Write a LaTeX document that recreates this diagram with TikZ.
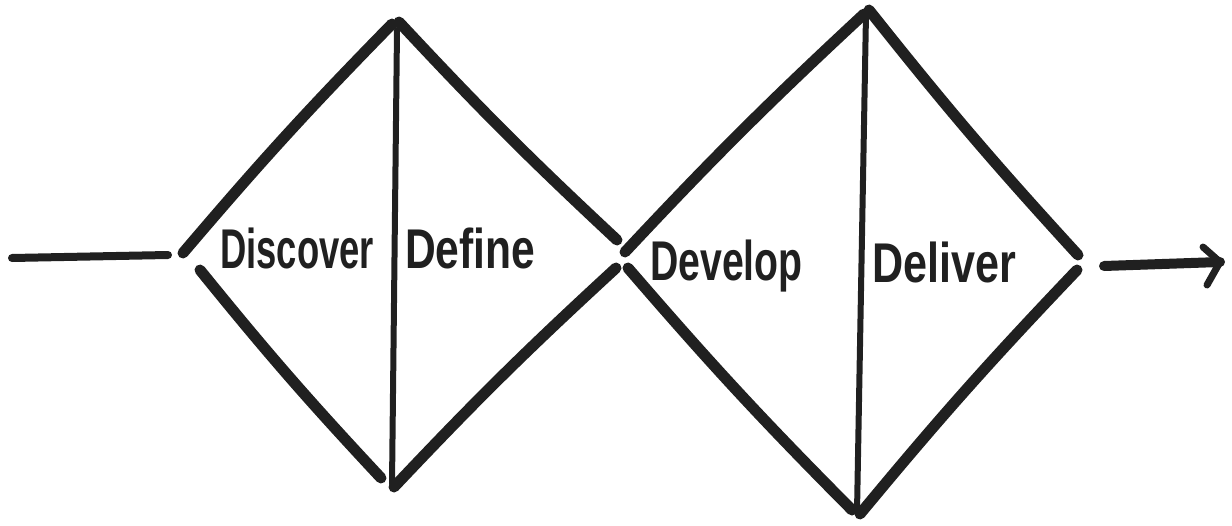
\documentclass[tikz,border=0pt]{standalone}
\usepackage{fontspec}
\setmainfont{Liberation Sans}
\definecolor{ink}{HTML}{202020}
\begin{document}
\begin{tikzpicture}[x=1pt,y=-1pt,
  edge/.style={draw=ink,line width=11pt,line cap=round,line join=round},
  divider/.style={draw=ink,line width=6pt,line cap=round},
  label/.style={text=ink,font=\fontsize{56}{64}\selectfont\bfseries,anchor=base west,inner sep=0pt,transform shape}]
\useasboundingbox (0,0) rectangle (1232,525);
% first diamond
\coordinate (l1a) at (183,253);
\coordinate (l1b) at (200,270);
\coordinate (t1a) at (392,24);
\coordinate (t1b) at (399,22);
\coordinate (b1a) at (381,478);
\coordinate (b1b) at (394,487);
\coordinate (r1a) at (617,240);
\coordinate (r1b) at (616,268);
% second diamond
\coordinate (l2a) at (625,252);
\coordinate (l2b) at (628,268);
\coordinate (t2a) at (864,14);
\coordinate (t2b) at (869,10);
\coordinate (b2a) at (852,510);
\coordinate (b2b) at (860,514);
\coordinate (r2a) at (1078,255);
\coordinate (r2b) at (1077,270);
% lead-in and arrow
\coordinate (in0) at (12,258);
\coordinate (in1) at (168,255);
\coordinate (out0) at (1104,266);
\coordinate (out1) at (1220,262);
\coordinate (tipA) at (1203,247);
\coordinate (tipB) at (1207,285);
% edges
\draw[edge] (l1a) to[bend left=2] (t1a);
\draw[edge] (t1b) to[bend right=2] (r1a);
\draw[edge] (l1b) to[bend right=2] (b1a);
\draw[edge] (b1b) to[bend left=2] (r1b);
\draw[edge] (l2a) to[bend left=2] (t2a);
\draw[edge] (t2b) to[bend right=2] (r2a);
\draw[edge] (l2b) to[bend right=2] (b2a);
\draw[edge] (b2b) to[bend left=2] (r2b);
% dividers
\coordinate (v1t) at (397,30);
\coordinate (v1b) at (392,484);
\coordinate (v2t) at (866,14);
\coordinate (v2b) at (857,512);
\draw[divider] (v1t) -- (v1b);
\draw[divider] (v2t) -- (v2b);
% lead in line
\draw[edge,line width=8pt] (in0) -- (in1);
% arrow
\draw[edge,line width=10pt] (out0) -- (out1);
\draw[edge,line width=7pt] (tipA) -- (out1) -- (tipB);
% labels
\node[label,xscale=0.65] (discover) at (220,268) {Discover};
\node[label,xscale=0.76] (define) at (405,268) {Define};
\node[label,xscale=0.70] (develop) at (650,280) {Develop};
\node[label,xscale=0.77] (deliver) at (872,282) {Deliver};
\end{tikzpicture}
\end{document}
